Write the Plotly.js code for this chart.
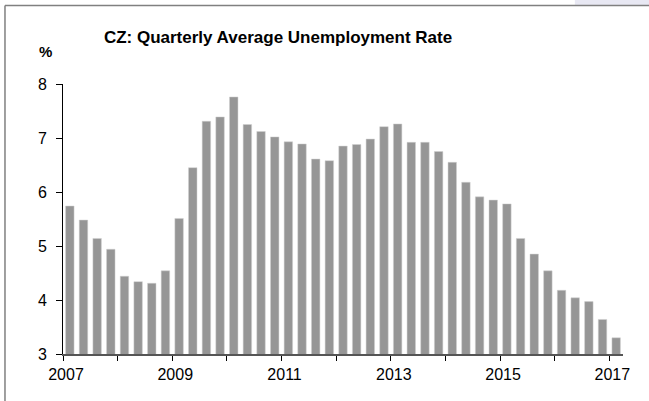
<!DOCTYPE html>
<html>
<head>
<meta charset="utf-8">
<script src="https://cdn.plot.ly/plotly-3.0.1.min.js"></script>
<style>
  html, body { margin: 0; padding: 0; background: #ffffff; }
  #chart { width: 649px; height: 401px; }
</style>
</head>
<body>
<div id="chart"></div>
<script>
// Quarterly data, 2007 Q1 – 2017 Q1
var years = [2007,2007,2007,2007, 2008,2008,2008,2008, 2009,2009,2009,2009,
             2010,2010,2010,2010, 2011,2011,2011,2011, 2012,2012,2012,2012,
             2013,2013,2013,2013, 2014,2014,2014,2014, 2015,2015,2015,2015,
             2016,2016,2016,2016, 2017];
var quarters = [1,2,3,4, 1,2,3,4, 1,2,3,4, 1,2,3,4, 1,2,3,4, 1,2,3,4,
                1,2,3,4, 1,2,3,4, 1,2,3,4, 1,2,3,4, 1];
var unemployment = [5.74,5.48,5.14,4.94, 4.44,4.34,4.31,4.54, 5.51,6.45,7.31,7.39,
                    7.76,7.25,7.12,7.02, 6.93,6.89,6.61,6.58, 6.85,6.88,6.98,7.21,
                    7.26,6.92,6.92,6.75, 6.55,6.18,5.91,5.85, 5.78,5.14,4.85,4.54,
                    4.18,4.04,3.97,3.64, 3.30];
var yearTicks = [2007,2008,2009,2010,2011,2012,2013,2014,2015,2016,2017];
var yearTickLabels = ["2007","","2009","","2011","","2013","","2015","","2017"];
var yTicks = [3,4,5,6,7,8];

// bar centre inside its quarter slot
var xPos = years.map(function (y, i) { return y + (quarters[i] - 0.5) / 4; });

var trace = {
  type: 'bar',
  x: xPos,
  y: unemployment,
  width: 0.155,
  marker: { color: '#969696', line: { color: '#d0d0d0', width: 0.5 } },
  hoverinfo: 'x+y'
};

var font = { family: 'Liberation Sans, Arial, sans-serif', size: 16, color: '#000000' };

var layout = {
  width: 649,
  height: 401,
  margin: { l: 63, r: 26, t: 84, b: 47, pad: 0 },
  paper_bgcolor: '#ffffff',
  plot_bgcolor: '#ffffff',
  showlegend: false,
  font: font,
  title: {
    text: 'CZ: Quarterly Average Unemployment Rate',
    font: { family: 'Liberation Sans, Arial, sans-serif', size: 17, color: '#000000', weight: 'bold' },
    xref: 'paper', x: 0.384, xanchor: 'center',
    yref: 'container', y: 0.908, yanchor: 'middle'
  },
  xaxis: {
    range: [2007, 2017.25],
    tickmode: 'array',
    tickvals: yearTicks,
    ticktext: yearTickLabels,
    ticks: 'outside',
    ticklen: 5,
    tickwidth: 1,
    tickcolor: '#000000',
    ticklabelshift: 3,
    showline: true,
    linecolor: '#555555',
    linewidth: 1.5,
    showgrid: false,
    zeroline: false,
    tickfont: font,
    fixedrange: true
  },
  yaxis: {
    range: [3, 8],
    tickmode: 'array',
    tickvals: yTicks,
    ticks: 'outside',
    ticklen: 6,
    tickwidth: 1,
    tickcolor: '#000000',
    ticklabelstandoff: 6,
    showline: true,
    linecolor: '#000000',
    linewidth: 1,
    showgrid: false,
    zeroline: false,
    tickfont: font,
    fixedrange: true
  },
  annotations: [{
    text: '%',
    xref: 'paper', yref: 'paper',
    x: -0.032, y: 1.122,
    xanchor: 'center', yanchor: 'middle',
    showarrow: false,
    font: { family: 'Liberation Sans, Arial, sans-serif', size: 15, color: '#000000', weight: 'bold' }
  }],
  shapes: [
    // light page background visible at top-right corner
    { type: 'rect', xref: 'paper', yref: 'paper',
      x0: 0.914, x1: 1.06, y0: 1.292, y1: 1.32,
      fillcolor: '#e8e8f3', line: { width: 0 }, layer: 'below' },
    // chart frame: top edge
    { type: 'line', xref: 'paper', yref: 'paper',
      x0: -0.1036, x1: 1.06, y0: 1.2907, y1: 1.2907,
      line: { color: '#808080', width: 1.5 } },
    // chart frame: left edge
    { type: 'line', xref: 'paper', yref: 'paper',
      x0: -0.1036, x1: -0.1036, y0: 1.2907, y1: -0.2,
      line: { color: '#808080', width: 1.5 } }
  ]
};

Plotly.newPlot('chart', [trace], layout, { displayModeBar: false, staticPlot: true });
</script>
</body>
</html>
